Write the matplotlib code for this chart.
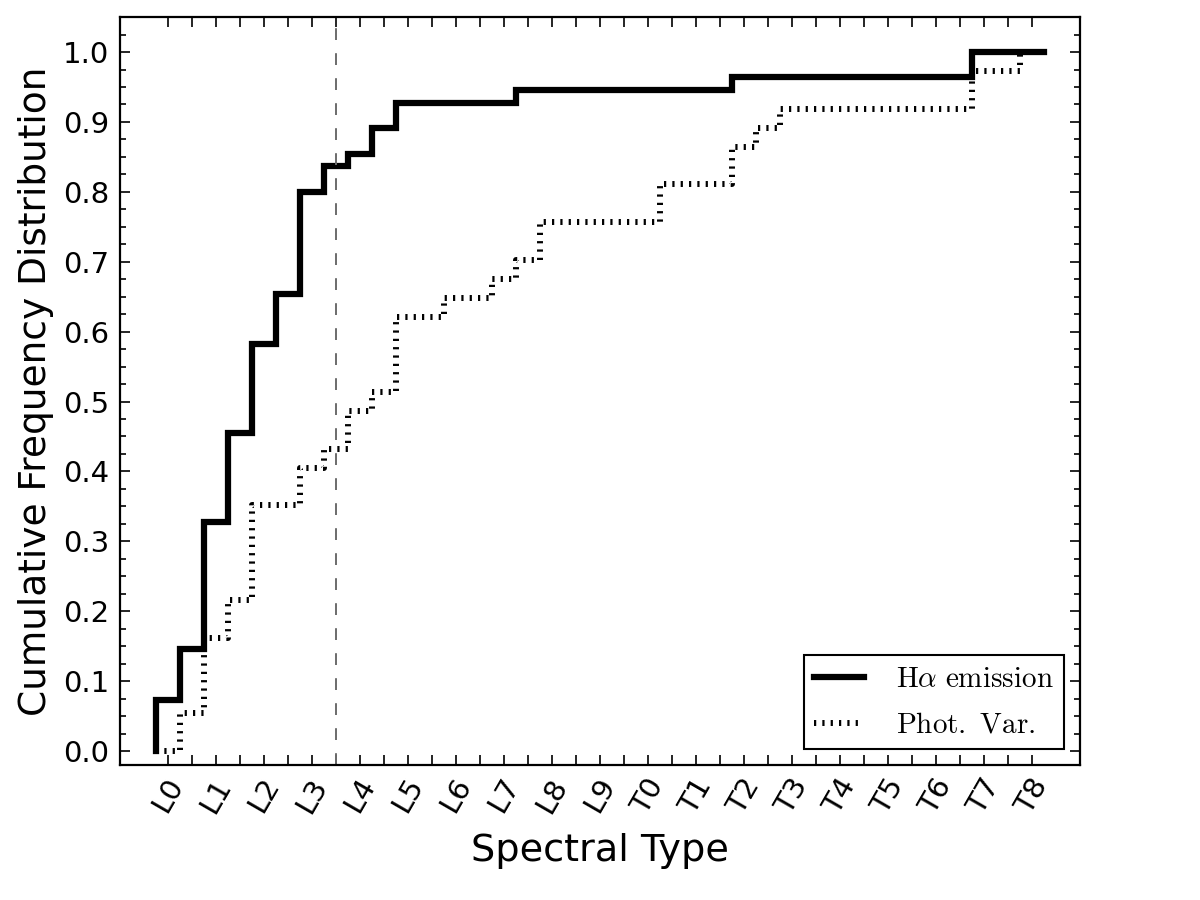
import numpy as np
import matplotlib
matplotlib.use("Agg")
import matplotlib.pyplot as plt

# ---- data (spectral subtype index: L0=0 ... L9=9, T0=10 ... T8=18) ----
spectral_labels = ['L0', 'L1', 'L2', 'L3', 'L4', 'L5', 'L6', 'L7', 'L8', 'L9',
                   'T0', 'T1', 'T2', 'T3', 'T4', 'T5', 'T6', 'T7', 'T8']

ha_types = [0.0, 0.5, 1.0, 1.5, 2.0, 2.5, 3.0, 3.5, 4.0, 4.5, 5.0, 7.5, 12.0, 17.0]
ha_counts = [4, 4, 10, 7, 7, 4, 8, 2, 1, 2, 2, 1, 1, 2]

pv_types = [0.5, 1.0, 1.5, 2.0, 3.0, 3.5, 4.0, 4.5, 5.0, 6.0, 7.0, 7.5, 8.0,
            10.5, 12.0, 12.5, 13.0, 17.0, 18.0]
pv_counts = [2, 4, 2, 5, 2, 1, 2, 1, 4, 1, 1, 1, 2, 2, 2, 1, 1, 2, 1]

divider_type = 3.5

plt.rcParams['lines.scale_dashes'] = False
plt.rcParams['mathtext.fontset'] = 'cm'

fig = plt.figure(figsize=(12, 9), dpi=100)
ax = fig.add_axes([0.1, 0.15, 0.8, 0.831])

edges = np.arange(-0.25, 18.5, 0.5)


def cumulative(types, counts):
    sample = np.repeat(types, counts)
    hist, _ = np.histogram(sample, bins=edges)
    return np.r_[0.0, np.cumsum(hist) / hist.sum()]


ax.step(edges, cumulative(ha_types, ha_counts), where='pre', color='black',
        lw=4.5, solid_joinstyle='miter', label=r'$\mathrm{H}\alpha\ \mathrm{emission}$')
ax.step(edges, cumulative(pv_types, pv_counts), where='pre', color='black',
        lw=4.3, linestyle=(0, (1.6, 4.4)), label=r'$\mathrm{Phot.\ Var.}$')

ax.axvline(divider_type, color='0.42', lw=1.4, linestyle=(0, (8.5, 9.5)))

ax.set_xlim(-1, 19)
ax.set_ylim(-0.02, 1.05)

ax.set_xticks(np.arange(len(spectral_labels)))
ax.set_xticklabels(spectral_labels, rotation=60, ha='center')
ax.set_xticks(np.arange(0.5, 18.0, 1.0), minor=True)
ax.set_yticks(np.arange(0, 1.01, 0.1))
ax.set_yticklabels([f'{v:.1f}' for v in np.arange(0, 1.01, 0.1)])
ax.set_yticks(np.arange(-0.0, 1.051, 0.025), minor=True)

ax.tick_params(which='both', direction='in', top=True, right=True, width=1.2)
ax.tick_params(axis='y', which='major', length=7, labelsize=21, pad=8)
ax.tick_params(axis='y', which='minor', length=4)
ax.tick_params(axis='x', which='both', length=7, labelsize=21, pad=6)

for s in ax.spines.values():
    s.set_linewidth(1.6)

ax.set_xlabel('Spectral Type', fontsize=27.5, labelpad=10)
ax.set_ylabel('Cumulative Frequency Distribution', fontsize=27, labelpad=6)

leg = ax.legend(loc='lower right', fontsize=21, fancybox=False, framealpha=1,
                edgecolor='black', handlelength=1.7, handletextpad=1.1,
                borderpad=0.35, labelspacing=0.6, borderaxespad=0.55)
leg.get_frame().set_linewidth(1.5)

fig.savefig('out.png', dpi=100)
